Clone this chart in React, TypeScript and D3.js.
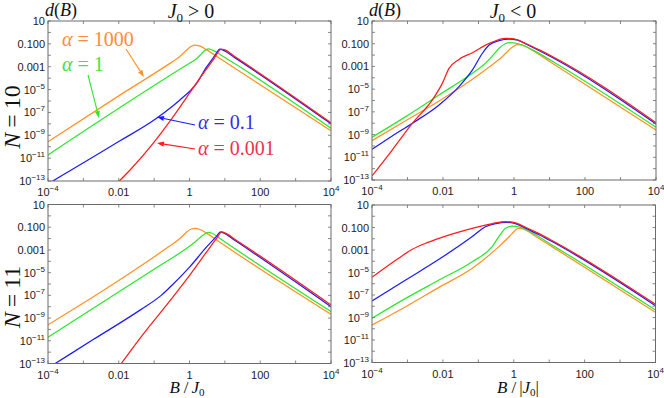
import * as d3 from "d3";

// every point is [log10 B, log10 d(B)]
type Pt = [number, number];

// J0 > 0, N = 10
const posN10_a1000: Pt[] = [[-4, -9.56], [-2, -5.55], [-0.5, -2.6], [-0.3, -2.18], [-0.1, -1.6], [0.05, -1.22], [0.15, -1.1], [0.3, -1.2], [0.5, -1.55], [0.86, -2.28], [4, -8.6]];
const posN10_a1: Pt[] = [[-4, -10.72], [-1, -4.65], [0, -2.7], [0.15, -2.42], [0.3, -2.0], [0.42, -1.6], [0.53, -1.43], [0.65, -1.55], [1, -2.2], [4, -8.39]];
const posN10_a01: Pt[] = [[-4, -13.25], [-2, -9.55], [-0.93, -7.51], [-0.5, -6.5], [-0.27, -5.91], [0.2, -4.45], [0.49, -3.0], [0.7, -2.1], [0.86, -1.45], [0.95, -1.55], [1.3, -2.25], [4, -8.0]];
const posN10_a0001: Pt[] = [[-2.1, -13.35], [-1.68, -12.04], [-1.0, -9.6], [-0.5, -7.55], [-0.08, -5.68], [0.39, -3.58], [0.67, -2.41], [0.9, -1.45], [0.98, -1.5], [1.3, -2.15], [4, -7.9]];

// J0 < 0, N = 10
const negN10_a1000: Pt[] = [[-4, -9.53], [-3.05, -7.78], [-2.11, -6.04], [-1.17, -4.13], [-0.7, -3.05], [-0.33, -2.14], [-0.05, -1.32], [0.09, -1.08], [0.2, -1.1], [0.5, -1.55], [1.08, -2.72], [4, -8.6]];
const negN10_a1: Pt[] = [[-4, -9.24], [-3.05, -7.42], [-2.11, -5.51], [-1.17, -3.6], [-0.85, -2.85], [-0.6, -2.05], [-0.42, -1.4], [-0.25, -1.0], [-0.1, -0.9], [0.1, -0.98], [0.5, -1.5], [1.08, -2.55], [4, -8.36]];
const negN10_a01: Pt[] = [[-4, -10.3], [-3.43, -9.12], [-2.86, -8.0], [-2.11, -6.39], [-1.55, -4.78], [-1.17, -3.31], [-0.89, -1.84], [-0.7, -1.11], [-0.42, -0.73], [-0.14, -0.6], [0.1, -0.68], [0.33, -1.02], [0.7, -1.6], [1.08, -2.22], [4, -8.07]];
const negN10_a0001: Pt[] = [[-4, -12.64], [-3.43, -10.36], [-2.86, -8.0], [-2.3, -5.95], [-2.02, -4.49], [-1.83, -3.17], [-1.55, -2.38], [-1.17, -1.79], [-0.7, -0.97], [-0.24, -0.52], [0, -0.58], [0.33, -0.98], [0.7, -1.52], [1.08, -2.12], [4, -7.95]];

// J0 > 0, N = 11
const posN11_a1000: Pt[] = [[-4, -9.6], [-2.34, -6.38], [-0.6, -2.75], [-0.36, -2.22], [-0.2, -1.8], [-0.08, -1.42], [0.05, -1.16], [0.155, -1.1], [0.3, -1.2], [0.49, -1.54], [0.86, -2.33], [4, -8.67]];
const posN11_a1: Pt[] = [[-4, -10.69], [-1, -4.7], [0, -2.68], [0.11, -2.42], [0.25, -2.05], [0.39, -1.68], [0.53, -1.45], [0.65, -1.55], [0.86, -2.0], [4, -8.43]];
const posN11_a01: Pt[] = [[-4, -13.4], [-2.7, -10.85], [-1.4, -8.3], [-0.8, -7.0], [-0.46, -6.0], [0.014, -4.47], [0.49, -2.71], [0.75, -1.85], [0.88, -1.42], [0.96, -1.5], [1.3, -2.2], [4, -8.0]];
const posN11_a0001: Pt[] = [[-2.0, -13.3], [-1.4, -10.78], [-0.46, -7.11], [0.014, -5.2], [0.49, -3.15], [0.75, -2.05], [0.92, -1.42], [1.0, -1.5], [1.3, -2.1], [4, -7.85]];

// J0 < 0, N = 11
const negN11_a1000: Pt[] = [[-4, -9.67], [-3.05, -8.04], [-2.11, -6.32], [-1.17, -4.63], [-0.42, -2.7], [-0.2, -2.05], [-0.04, -1.52], [0.08, -1.15], [0.15, -1.07], [0.3, -1.17], [0.6, -1.75], [1.08, -2.7], [4, -8.54]];
const negN11_a1: Pt[] = [[-4, -9.07], [-3.05, -7.3], [-2.11, -5.67], [-1.17, -4.04], [-0.61, -2.7], [-0.42, -1.81], [-0.23, -1.07], [-0.04, -0.87], [0.2, -1.0], [0.5, -1.45], [1.08, -2.55], [4, -8.33]];
const negN11_a01: Pt[] = [[-4, -7.53], [-3.05, -5.67], [-2.11, -3.83], [-1.17, -1.81], [-0.8, -0.93], [-0.5, -0.65], [-0.2, -0.55], [0, -0.62], [0.33, -1.05], [0.7, -1.62], [1.08, -2.25], [4, -7.95]];
const negN11_a0001: Pt[] = [[-4, -5.43], [-3.3, -3.85], [-2.86, -2.94], [-2.5, -2.42], [-2.11, -1.96], [-1.17, -1.07], [-0.6, -0.65], [-0.23, -0.48], [0, -0.55], [0.33, -0.98], [0.7, -1.52], [1.08, -2.15], [4, -7.83]];

const alphas = ["1000", "1", "0.1", "0.001"];
const lineColors = ["#ff9326", "#2ee62e", "#1c1cff", "#ff1c1c"];
const labelColors = ["#ff8a3a", "#45e045", "#3030e0", "#f0304a"];

const xDecades = d3.range(-4, 5);
const yDecades = d3.range(-13, 2);
const xLabelDecades = [-4, -2, 0, 2, 4];
const yLabelDecades = [1, -1, -3, -5, -7, -9, -11, -13];

const serif = "'Liberation Serif', 'Times New Roman', serif";
const sans = "'Liberation Sans', Arial, sans-serif";

function xTickText(k: number) {
  if (k === -2) return { base: "0.01", sup: "" };
  if (k === 0) return { base: "1", sup: "" };
  if (k === 2) return { base: "100", sup: "" };
  return { base: "10", sup: k < 0 ? "\u2212" + -k : String(k) };
}
function yTickText(k: number) {
  if (k === 1) return { base: "10", sup: "" };
  if (k === -1) return { base: "0.100", sup: "" };
  if (k === -3) return { base: "0.001", sup: "" };
  return { base: "10", sup: "\u2212" + -k };
}

function Panel({ id, left, right, top, bottom, series }: any) {
  const x = d3.scaleLog().domain([1e-4, 1e4]).range([left, right]);
  const y = d3.scaleLog().domain([1e-13, 10]).range([bottom, top]);
  const line = d3
    .line<Pt>()
    .x((d) => x(Math.pow(10, d[0])))
    .y((d) => y(Math.pow(10, d[1])))
    .curve(d3.curveMonotoneX);
  const tk = 3;
  return (
    <g>
      <clipPath id={id}>
        <rect x={left} y={top} width={right - left} height={bottom - top} />
      </clipPath>
      <g clipPath={`url(#${id})`}>
        {series.map((s: Pt[], i: number) => (
          <path key={i} d={line(s) || ""} fill="none" stroke={lineColors[i]} strokeWidth={1.25} />
        ))}
      </g>
      <rect x={left} y={top} width={right - left} height={bottom - top} fill="none" stroke="#6b6b6b" strokeWidth={1} />
      {xDecades.map((k) => (
        <g key={"x" + k} stroke="#6b6b6b" strokeWidth={0.8}>
          <line x1={x(Math.pow(10, k))} x2={x(Math.pow(10, k))} y1={bottom} y2={bottom - tk} />
          <line x1={x(Math.pow(10, k))} x2={x(Math.pow(10, k))} y1={top} y2={top + tk} />
        </g>
      ))}
      {yDecades.map((k) => (
        <g key={"y" + k} stroke="#6b6b6b" strokeWidth={0.8}>
          <line x1={left} x2={left + tk} y1={y(Math.pow(10, k))} y2={y(Math.pow(10, k))} />
          <line x1={right} x2={right - tk} y1={y(Math.pow(10, k))} y2={y(Math.pow(10, k))} />
        </g>
      ))}
      {xLabelDecades.map((k) => {
        const t = xTickText(k);
        return (
          <text key={"xl" + k} x={x(Math.pow(10, k))} y={bottom + 15} textAnchor="middle" fontFamily={sans} fontSize={11} fill="#1a1a1a">
            {t.base}
            {t.sup && <tspan dy={-5} fontSize={8}>{t.sup}</tspan>}
          </text>
        );
      })}
      {yLabelDecades.map((k) => {
        const t = yTickText(k);
        return (
          <text key={"yl" + k} x={left - 3} y={y(Math.pow(10, k)) + 4} textAnchor="end" fontFamily={sans} fontSize={11} fill="#1a1a1a">
            {t.base}
            {t.sup && <tspan dy={-5} fontSize={8}>{t.sup}</tspan>}
          </text>
        );
      })}
    </g>
  );
}

function Arrow({ x1, y1, x2, y2, color }: any) {
  const a = Math.atan2(y2 - y1, x2 - x1);
  const L = 7, W = 2.6;
  const bx = x2 - L * Math.cos(a), by = y2 - L * Math.sin(a);
  const pts = [
    [x2, y2],
    [bx + W * Math.sin(a), by - W * Math.cos(a)],
    [bx - W * Math.sin(a), by + W * Math.cos(a)],
  ];
  return (
    <g>
      <line x1={x1} y1={y1} x2={bx} y2={by} stroke={color} strokeWidth={1.1} />
      <polygon points={pts.map((p) => p.join(",")).join(" ")} fill={color} />
    </g>
  );
}

function AlphaLabel({ x, y, i }: any) {
  return (
    <text x={x} y={y} fontFamily={serif} fontSize={20} fill={labelColors[i]}>
      <tspan fontStyle="italic">α</tspan>
      <tspan dx={5}>=</tspan>
      <tspan dx={5}>{alphas[i]}</tspan>
    </text>
  );
}

function MathN({ cx, cy, n }: any) {
  return (
    <text transform={`translate(${cx},${cy}) rotate(-90)`} textAnchor="middle" fontFamily={serif} fontSize={24} fill="#111">
      <tspan fontStyle="italic">N</tspan>
      <tspan dx={5}>=</tspan>
      <tspan dx={5}>{n}</tspan>
    </text>
  );
}

function DB({ x, y }: any) {
  return (
    <text x={x} y={y} fontFamily={serif} fontSize={18} fill="#111">
      <tspan fontStyle="italic">d</tspan>(<tspan fontStyle="italic">B</tspan>)
    </text>
  );
}

function Title({ cx, y, op }: any) {
  return (
    <text x={cx} y={y} textAnchor="middle" fontFamily={serif} fontSize={20} fill="#111">
      <tspan fontStyle="italic">J</tspan>
      <tspan fontSize={13} dy={4}>0</tspan>
      <tspan dy={-4} dx={5}>{op}</tspan>
      <tspan dx={5}>0</tspan>
    </text>
  );
}

export default function App() {
  return (
    <svg width={664} height={398} style={{ position: "absolute", left: 0, top: 0, background: "#fff" }}>
      <Panel id="c1" left={48} right={331} top={21} bottom={181} series={[posN10_a1000, posN10_a1, posN10_a01, posN10_a0001]} />
      <Panel id="c2" left={372} right={656} top={21} bottom={180} series={[negN10_a1000, negN10_a1, negN10_a01, negN10_a0001]} />
      <Panel id="c3" left={48} right={331} top={204.5} bottom={363.5} series={[posN11_a1000, posN11_a1, posN11_a01, posN11_a0001]} />
      <Panel id="c4" left={372} right={655.5} top={205} bottom={362.5} series={[negN11_a1000, negN11_a1, negN11_a01, negN11_a0001]} />

      <DB x={45} y={16} />
      <DB x={369} y={16} />
      <Title cx={191} y={18} op=">" />
      <Title cx={513} y={18} op="<" />

      <MathN cx={20} cy={117} n="10" />
      <MathN cx={20} cy={297} n="11" />

      <text x={187} y={393} textAnchor="middle" fontFamily={serif} fontSize={17} fill="#111">
        <tspan fontStyle="italic">B</tspan>
        <tspan dx={4}>/</tspan>
        <tspan dx={3} fontStyle="italic">J</tspan>
        <tspan fontSize={11} dy={3}>0</tspan>
      </text>
      <text x={518} y={393} textAnchor="middle" fontFamily={serif} fontSize={17} fill="#111">
        <tspan fontStyle="italic">B</tspan>
        <tspan dx={4}>/</tspan>
        <tspan dx={3}>|</tspan>
        <tspan fontStyle="italic">J</tspan>
        <tspan fontSize={11} dy={3}>0</tspan>
        <tspan dy={-3}>|</tspan>
      </text>

      <AlphaLabel x={62} y={46} i={0} />
      <AlphaLabel x={62} y={71} i={1} />
      <AlphaLabel x={198} y={129} i={2} />
      <AlphaLabel x={198} y={155} i={3} />
      <Arrow x1={126} y1={49} x2={144} y2={77} color={lineColors[0]} />
      <Arrow x1={88} y1={75} x2={99} y2={118} color={lineColors[1]} />
      <Arrow x1={195} y1={125} x2={157} y2={117} color={lineColors[2]} />
      <Arrow x1={195} y1={149} x2={157} y2={143} color={lineColors[3]} />
    </svg>
  );
}
